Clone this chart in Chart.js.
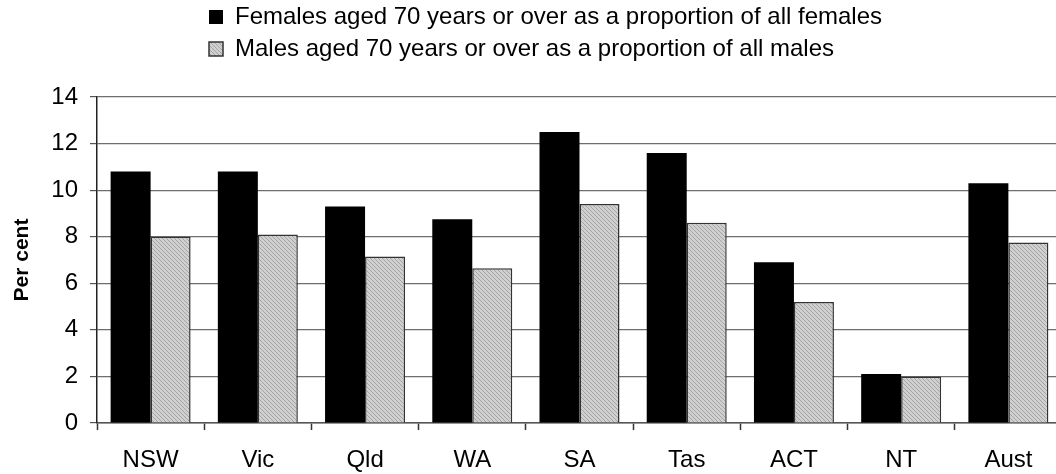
<!DOCTYPE html>
<html>
<head>
<meta charset="utf-8">
<script src="https://cdn.jsdelivr.net/npm/chart.js@4/dist/chart.umd.min.js"></script>
<style>
  html, body { margin: 0; padding: 0; background: #fff; overflow: hidden; }
  #wrap { width: 1056px; height: 474px; overflow: hidden; position: relative; }
  canvas { display: block; }
</style>
</head>
<body>
<div id="wrap"><canvas id="c" width="1080" height="474"></canvas></div>
<script>
const categories = ['NSW', 'Vic', 'Qld', 'WA', 'SA', 'Tas', 'ACT', 'NT', 'Aust'];
const femaleValues = [10.8, 10.8, 9.3, 8.75, 12.5, 11.6, 6.9, 2.1, 10.3];
const maleValues = [8.0, 8.1, 7.15, 6.65, 9.4, 8.6, 5.2, 2.0, 7.75];
const femaleLabel = 'Females aged 70 years or over as a proportion of all females';
const maleLabel = 'Males aged 70 years or over as a proportion of all males';
const yTitle = 'Per cent';

function makePattern() {
  const p = document.createElement('canvas');
  p.width = 4; p.height = 4;
  const g = p.getContext('2d');
  g.fillStyle = '#d0d0d0';
  g.fillRect(0, 0, 4, 4);
  g.fillStyle = '#a4a4a4';
  for (let i = 0; i < 4; i++) g.fillRect(i, i, 1, 1);
  return g.createPattern(p, 'repeat');
}
const hatch = makePattern();

const legendMover = {
  id: 'legendMover',
  beforeDraw(chart) {
    const lg = chart.legend;
    if (!lg) return;
    const h = lg.height;
    lg.left = 201;
    lg.top = -3;
    lg.bottom = lg.top + h;
  }
};

const FONT = "'Liberation Sans', Arial, sans-serif";

new Chart(document.getElementById('c'), {
  type: 'bar',
  data: {
    labels: categories,
    datasets: [
      {
        label: femaleLabel,
        data: femaleValues,
        backgroundColor: '#000000',
        borderWidth: 0,
        categoryPercentage: 0.746,
        barPercentage: 1.0
      },
      {
        label: maleLabel,
        data: maleValues,
        backgroundColor: hatch,
        borderColor: '#333333',
        borderWidth: 1.5,
        categoryPercentage: 0.746,
        barPercentage: 1.0
      }
    ]
  },
  options: {
    responsive: false,
    animation: false,
    devicePixelRatio: 1,
    layout: { padding: { left: 0, right: 18, top: 23, bottom: 0 } },
    plugins: {
      tooltip: { enabled: false },
      legend: {
        display: true,
        position: 'top',
        align: 'start',
        labels: {
          color: '#000',
          font: { family: FONT, size: 24 },
          boxWidth: 14,
          boxHeight: 14,
          padding: 8
        }
      }
    },
    scales: {
      x: {
        offset: true,
        border: { display: true, color: '#555', width: 1.5 },
        grid: {
          display: true,
          offset: true,
          drawOnChartArea: false,
          drawTicks: true,
          tickLength: 7,
          tickColor: '#333',
          tickWidth: 1.5
        },
        ticks: {
          color: '#000',
          font: { family: FONT, size: 24 },
          padding: 16,
          maxRotation: 0,
          autoSkip: false
        },
        afterFit(scale) { scale.height = 51; }
      },
      y: {
        min: 0,
        max: 14,
        border: { display: true, color: '#222', width: 1.5 },
        grid: {
          color: '#6e6e6e',
          lineWidth: 1.2,
          drawTicks: true,
          tickLength: 7,
          tickColor: '#555'
        },
        ticks: {
          stepSize: 2,
          color: '#000',
          font: { family: FONT, size: 24 },
          padding: 12
        },
        title: {
          display: true,
          text: yTitle,
          color: '#000',
          font: { family: FONT, size: 21, weight: 'bold' },
          padding: { top: 10, bottom: 0 }
        },
        afterFit(scale) { scale.width = 97; }
      }
    }
  },
  plugins: [legendMover]
});
</script>
</body>
</html>
